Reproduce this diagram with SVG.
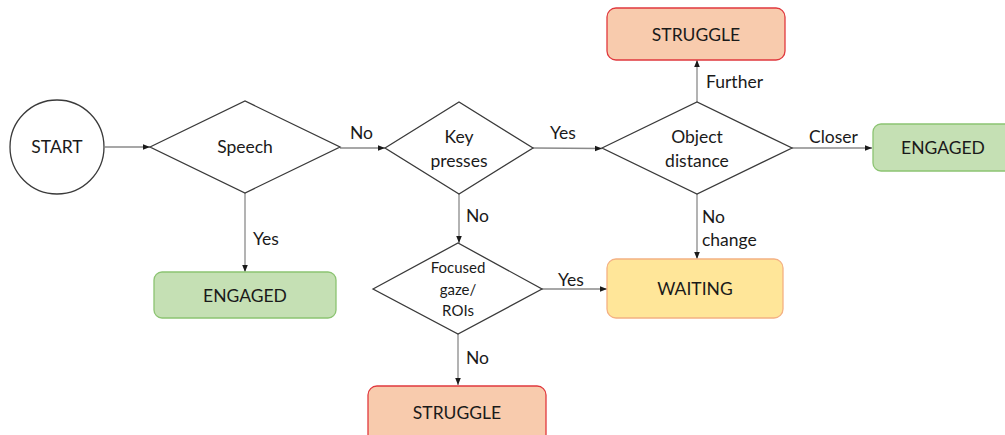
<svg xmlns="http://www.w3.org/2000/svg" width="1005" height="435" viewBox="0 0 1005 435">
  <defs>
    <marker id="arrow" viewBox="0 0 10 10" refX="10" refY="5" markerWidth="7" markerHeight="7" orient="auto" markerUnits="userSpaceOnUse">
      <path d="M0,1 L10,5 L0,9 Z" fill="#1a1a1a"/>
    </marker>
    <style>
      text { font-family: Lato, "Open Sans", "Liberation Sans", sans-serif; fill: #1a1a1a; text-anchor: middle; }
      .lbl { font-size: 17.5px; }
      .small { font-size: 15px; }
      .edge { font-size: 17.5px; text-anchor: start; }
      .decision { fill: #ffffff; stroke: #3a3a3a; stroke-width: 1.3; }
      .start { fill: #ffffff; stroke: #3a3a3a; stroke-width: 1.3; }
      .struggle { fill: #f8cbad; stroke: #e0393e; stroke-width: 1.3; }
      .engaged { fill: #c5e0b4; stroke: #8cc472; stroke-width: 1.3; }
      .waiting { fill: #ffe699; stroke: #f4b183; stroke-width: 1.3; }
      .conn line { stroke: #8a8a8a; stroke-width: 1.3; marker-end: url(#arrow); }
    </style>
  </defs>

  <rect x="0" y="0" width="1005" height="435" fill="#ffffff"/>

  <!-- connectors -->
  <g id="connectors" class="conn">
    <line x1="105" y1="147" x2="150" y2="147"/>
    <line x1="340" y1="148" x2="385" y2="148"/>
    <line x1="533" y1="148" x2="602" y2="148.5"/>
    <line x1="697" y1="102" x2="697" y2="60"/>
    <line x1="792" y1="148" x2="872" y2="148"/>
    <line x1="697" y1="194" x2="697" y2="259"/>
    <line x1="245" y1="193" x2="245" y2="272"/>
    <line x1="459" y1="194" x2="459" y2="243"/>
    <line x1="542" y1="289" x2="607" y2="289"/>
    <line x1="458" y1="334" x2="458" y2="385"/>
  </g>

  <!-- connector labels -->
  <g id="edge-labels">
    <text class="edge" x="350" y="139">No</text>
    <text class="edge" x="550" y="139">Yes</text>
    <text class="edge" x="706" y="88">Further</text>
    <text class="edge" x="809" y="143">Closer</text>
    <text class="edge" x="702" y="223">No</text>
    <text class="edge" x="702" y="246">change</text>
    <text class="edge" x="253" y="245">Yes</text>
    <text class="edge" x="466" y="222">No</text>
    <text class="edge" x="558" y="286">Yes</text>
    <text class="edge" x="466" y="364">No</text>
  </g>

  <g id="start">
    <circle class="start" cx="57" cy="147" r="47"/>
    <text class="lbl" x="57" y="153">START</text>
  </g>

  <g id="speech">
    <polygon class="decision" points="150,147 245,101 340,147 245,193"/>
    <text class="lbl" x="245" y="153">Speech</text>
  </g>

  <g id="key-presses">
    <polygon class="decision" points="385,148 459,102 533,148 459,194"/>
    <text class="lbl" x="459" y="143">Key</text>
    <text class="lbl" x="459" y="167">presses</text>
  </g>

  <g id="object-distance">
    <polygon class="decision" points="602,148 697,102 792,148 697,194"/>
    <text class="lbl" x="697" y="143">Object</text>
    <text class="lbl" x="697" y="167">distance</text>
  </g>

  <g id="focused-gaze">
    <polygon class="decision" points="373,289 458,243 542,289 458,334"/>
    <text class="small" x="458" y="273">Focused</text>
    <text class="small" x="458" y="295">gaze/</text>
    <text class="small" x="458" y="316">ROIs</text>
  </g>

  <g id="struggle-top">
    <rect class="struggle" x="607" y="8" width="178" height="52" rx="9"/>
    <text class="lbl" x="696" y="41">STRUGGLE</text>
  </g>

  <g id="engaged-right">
    <rect class="engaged" x="873" y="124" width="140" height="47" rx="8"/>
    <text class="lbl" x="943" y="154">ENGAGED</text>
  </g>

  <g id="waiting">
    <rect class="waiting" x="607" y="259" width="176" height="59" rx="9"/>
    <text class="lbl" x="695" y="295">WAITING</text>
  </g>

  <g id="engaged-left">
    <rect class="engaged" x="154" y="272" width="182" height="46" rx="8"/>
    <text class="lbl" x="245" y="302">ENGAGED</text>
  </g>

  <g id="struggle-bottom">
    <rect class="struggle" x="368" y="386" width="178" height="58" rx="9"/>
    <text class="lbl" x="457" y="419">STRUGGLE</text>
  </g>
</svg>
